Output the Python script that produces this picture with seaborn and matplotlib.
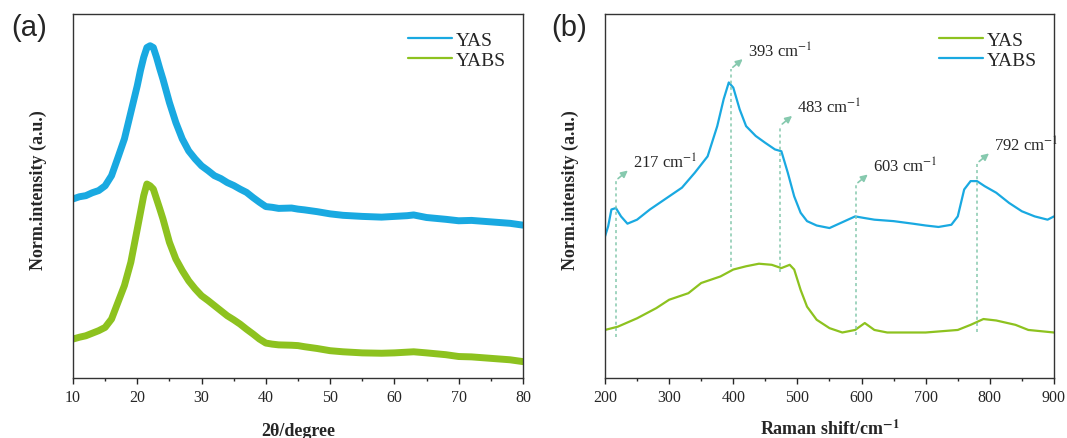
import matplotlib
matplotlib.use('Agg')
import matplotlib.pyplot as plt
from matplotlib.ticker import MultipleLocator
import seaborn as sns
import pandas as pd

sns.set_style('ticks')
plt.rcParams['font.family'] = ['Liberation Serif', 'DejaVu Serif']
plt.rcParams['mathtext.fontset'] = 'stix'

# (a) XRD, values (a.u., 0-100 = axis height)
xrd_2theta = [10, 11, 12, 13, 14, 15, 16, 17, 18, 19, 20, 20.5, 21, 21.5, 22, 22.5, 23, 23.5, 24, 25,
              26, 27, 28, 29, 30, 31, 32, 33, 34, 35, 36, 37, 38, 39, 40, 41, 42, 44, 45, 46, 48,
              50, 52, 55, 58, 60, 62, 63, 65, 68, 70, 72, 75, 78, 80]
xrd_yas = [49.2, 49.8, 50.1, 50.9, 51.5, 52.8, 55.6, 60.6, 65.7, 73.0, 80.3, 84.5, 88.1, 90.8, 91.3,
           90.8, 88.1, 85.0, 82.1, 75.7, 70.2, 65.7, 62.4, 60.2, 58.3, 57.0, 55.6, 54.8, 53.7, 52.9,
           51.9, 51.0, 49.6, 48.3, 47.1, 46.9, 46.6, 46.7, 46.4, 46.2, 45.7, 45.1, 44.7, 44.4, 44.2,
           44.4, 44.6, 44.8, 44.1, 43.6, 43.2, 43.3, 42.9, 42.5, 42.0]
xrd_yabs = [10.7, 11.2, 11.6, 12.3, 13.0, 13.9, 16.2, 20.8, 25.4, 31.8, 40.9, 45.5, 50.1, 53.3, 52.8,
            51.9, 49.2, 46.5, 43.7, 37.3, 32.7, 29.5, 26.7, 24.5, 22.6, 21.3, 19.9, 18.5, 17.1, 16.0,
            14.8, 13.4, 12.1, 10.7, 9.6, 9.3, 9.1, 9.0, 8.9, 8.6, 8.1, 7.5, 7.2, 6.9, 6.8,
            6.9, 7.1, 7.2, 6.9, 6.4, 5.9, 5.8, 5.4, 5.0, 4.5]

# (b) Raman
raman_yabs_x = [200, 205, 210, 217, 225, 235, 250, 270, 300, 320, 340, 360, 375, 385, 393, 400, 410,
                420, 435, 450, 465, 475, 485, 495, 505, 515, 530, 550, 570, 590, 603, 620, 650, 680,
                700, 720, 740, 750, 760, 770, 780, 792, 810, 830, 850, 870, 890, 900]
raman_yabs = [38.9, 41.7, 46.3, 46.7, 44.4, 42.4, 43.5, 46.3, 49.9, 52.3, 56.4, 60.9, 69.2, 76.6, 81.2,
              79.8, 73.8, 69.2, 66.5, 64.6, 62.8, 62.3, 56.4, 49.9, 45.4, 43.1, 41.9, 41.2, 42.8, 44.4,
              44.0, 43.5, 43.1, 42.4, 41.9, 41.5, 42.1, 44.4, 51.8, 54.1, 54.1, 52.7, 50.9, 48.1, 45.8,
              44.4, 43.5, 44.4]
raman_yas_x = [200, 220, 250, 280, 300, 330, 350, 380, 400, 420, 440, 460, 475, 488, 495, 505, 515,
               530, 550, 570, 590, 605, 620, 640, 700, 750, 770, 790, 810, 840, 860, 900]
raman_yas = [13.2, 14.1, 16.4, 19.2, 21.5, 23.3, 26.1, 27.9, 29.8, 30.7, 31.4, 31.1, 30.2, 31.1, 29.8,
             24.2, 19.6, 16.0, 13.7, 12.5, 13.2, 15.1, 13.2, 12.5, 12.5, 13.2, 14.6, 16.2, 15.8, 14.6,
             13.2, 12.5]

peak_labels = ['217', '393', '483', '603', '792']
peak_line_x = [217, 396, 473, 591, 780]
peak_line_top = [54.3, 84.9, 69.3, 53.2, 59.0]
peak_line_bottom = [11.3, 30.4, 29.1, 11.9, 12.5]

blue = '#19a9e1'
green = '#8dc21f'
arrow_c = '#86c9ae'

xrd = pd.concat([
    pd.DataFrame({'x': xrd_2theta, 'y': xrd_yas, 'sample': 'YAS'}),
    pd.DataFrame({'x': xrd_2theta, 'y': xrd_yabs, 'sample': 'YABS'}),
])
raman = pd.concat([
    pd.DataFrame({'x': raman_yas_x, 'y': raman_yas, 'sample': 'YAS'}),
    pd.DataFrame({'x': raman_yabs_x, 'y': raman_yabs, 'sample': 'YABS'}),
])

fig = plt.figure(figsize=(10.67, 4.39), dpi=100)
ax1 = fig.add_axes([0.0684, 0.1367, 0.4217, 0.829])
ax2 = fig.add_axes([0.567, 0.1367, 0.4208, 0.829])

sns.lineplot(data=xrd, x='x', y='y', hue='sample', palette={'YAS': blue, 'YABS': green},
             linewidth=5.0, ax=ax1, sort=False)
sns.lineplot(data=raman, x='x', y='y', hue='sample', palette={'YAS': green, 'YABS': blue},
             hue_order=['YAS', 'YABS'], linewidth=1.6, ax=ax2, sort=False)

ax1.set_xlim(10, 80)
ax1.set_ylim(0, 100)
ax2.set_xlim(200, 900)
ax2.set_ylim(0, 100)
ax1.xaxis.set_major_locator(MultipleLocator(10))
ax1.xaxis.set_minor_locator(MultipleLocator(5))
ax2.xaxis.set_major_locator(MultipleLocator(100))
ax2.xaxis.set_minor_locator(MultipleLocator(50))

for ax in (ax1, ax2):
    ax.set_yticks([])
    for s in ax.spines.values():
        s.set_linewidth(1.0)
        s.set_color('#333333')
    ax.tick_params(axis='x', which='major', length=4, width=1, labelsize=11.5, direction='out', pad=4)
    ax.tick_params(axis='x', which='minor', length=2.5, width=1, direction='out')
    ax.set_ylabel('Norm.intensity (a.u.)', fontsize=13, fontweight='bold')
    ax.yaxis.set_label_coords(-0.058, 0.52)
    leg = ax.legend(loc='upper right', frameon=False, fontsize=14, handlelength=2.3,
                    handletextpad=0.15, labelspacing=0.1, borderaxespad=0.5)
    for line in leg.get_lines():
        line.set_linewidth(1.6)

ax1.set_xlabel('2θ/degree', fontsize=13, fontweight='bold', labelpad=12)
ax2.set_xlabel('Raman shift/cm$^{\\mathbf{-1}}$', fontsize=13, fontweight='bold', labelpad=10)

fig.text(0.011, 0.968, '(a)', fontsize=21, family=['Liberation Sans', 'DejaVu Sans'], va='top')
fig.text(0.517, 0.968, '(b)', fontsize=21, family=['Liberation Sans', 'DejaVu Sans'], va='top')

for lab, px, top, bot in zip(peak_labels, peak_line_x, peak_line_top, peak_line_bottom):
    ax2.plot([px, px], [bot, top], ls=(0, (2, 2)), color=arrow_c, lw=1.1)
    ax2.annotate('', xy=(px + 22, top + 3.2), xytext=(px, top),
                 arrowprops=dict(arrowstyle='-|>', color=arrow_c, lw=1.2, mutation_scale=10))
    ax2.text(px + 27, top + 5.0, lab + ' cm$^{-1}$', fontsize=12, ha='left', va='center')

fig.savefig('out.png', dpi=100)
